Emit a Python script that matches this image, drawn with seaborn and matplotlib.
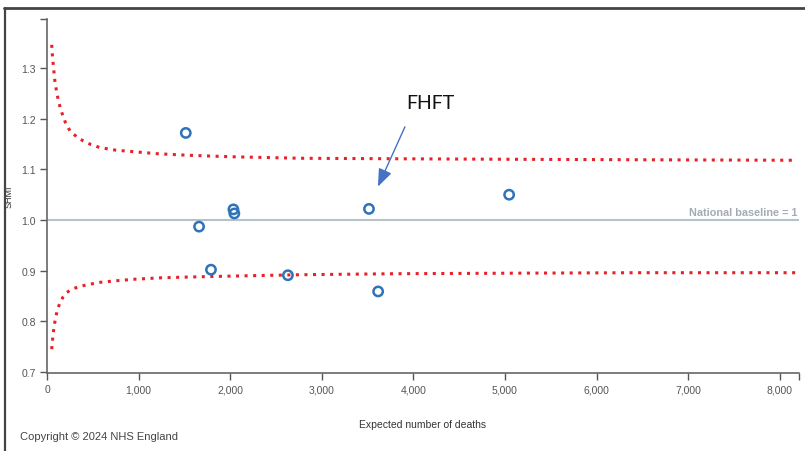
import pandas as pd
import matplotlib.pyplot as plt
import matplotlib.ticker as mticker
from matplotlib.lines import Line2D
import seaborn as sns

# -----------------------
# Data
# -----------------------
expected = [1515, 1660, 1790, 2035, 2045, 2630, 3515, 3615, 5045]
shmi = [1.172, 0.987, 0.902, 1.021, 1.013, 0.891, 1.022, 0.859, 1.050]

# control limits, sampled along the funnel
limit_x = [51, 60, 69, 85, 106, 130, 160, 200, 251, 320, 397, 480, 579, 750, 943, 1200,
           1525, 2000, 2762, 3800, 5000, 6500, 8190]
upper_limit = [1.346, 1.322, 1.305, 1.276, 1.252, 1.231, 1.213, 1.193, 1.176, 1.165,
               1.156, 1.149, 1.143, 1.138, 1.135, 1.131, 1.128, 1.125, 1.122, 1.121,
               1.120, 1.119, 1.118]
lower_x = [51, 60, 69, 83, 98, 120, 142, 175, 215, 280, 360, 460, 579, 750, 942, 1250,
           1670, 2200, 2762, 3800, 5000, 6500, 8190]
lower_limit = [0.745, 0.763, 0.778, 0.796, 0.811, 0.826, 0.837, 0.848, 0.857, 0.864,
               0.869, 0.873, 0.877, 0.880, 0.883, 0.886, 0.888, 0.890, 0.892, 0.894,
               0.895, 0.896, 0.896]

x_ticks = [0, 1000, 2000, 3000, 4000, 5000, 6000, 7000, 8000]
y_ticks = [0.7, 0.8, 0.9, 1.0, 1.1, 1.2, 1.3]

points = pd.DataFrame({"Expected": expected, "SHMI": shmi})
upper = pd.DataFrame({"Expected": limit_x, "SHMI": upper_limit})
lower = pd.DataFrame({"Expected": lower_x, "SHMI": lower_limit})

# -----------------------
# Plot
# -----------------------
sns.set_style("ticks")
plt.rcParams["font.family"] = ["Liberation Sans", "DejaVu Sans"]

fig = plt.figure(figsize=(8.05, 4.52), dpi=100)
ax = fig.add_axes([0.0584, 0.1726, 0.9342, 0.7832])

red = "#e8202a"
sns.lineplot(data=upper, x="Expected", y="SHMI", ax=ax, color=red,
             linestyle=(0, (1, 1.8)), linewidth=2.2, estimator=None, sort=False)
sns.lineplot(data=lower, x="Expected", y="SHMI", ax=ax, color=red,
             linestyle=(0, (1, 1.8)), linewidth=2.2, estimator=None, sort=False)

ax.axhline(1.0, color="#b4c2cc", linewidth=1.5, zorder=1)
ax.text(8190, 1.006, "National baseline = 1", ha="right", va="bottom",
        fontsize=7.8, fontweight="bold", color="#a3acb4")

sns.scatterplot(data=points, x="Expected", y="SHMI", ax=ax, marker="o",
                s=45, facecolor="none", edgecolor="#2f73b8", linewidth=1.8, zorder=5)

# FHFT annotation
ax.annotate("", xy=(3600, 1.061), xytext=(3920, 1.189),
            arrowprops=dict(arrowstyle="-|>,head_length=0.9,head_width=0.35",
                            color="#4472c4", lw=1, mutation_scale=12))
ax.text(4180, 1.233, "FHFT", ha="center", va="center", fontsize=14,
        family=["Lato", "DejaVu Sans"], color="#111111")

# axes
ax.set_xlim(0, 8210)
ax.set_ylim(0.698, 1.397)
ax.set_xticks(x_ticks)
ax.set_yticks(y_ticks)
ax.xaxis.set_major_formatter(mticker.StrMethodFormatter("{x:,.0f}"))
ax.yaxis.set_major_formatter(mticker.StrMethodFormatter("{x:.1f}"))
ax.xaxis.set_minor_locator(mticker.FixedLocator([8210]))
ax.yaxis.set_minor_locator(mticker.FixedLocator([1.397]))
ax.tick_params(which="both", length=5, width=1, color="#555555",
               labelsize=7.5, labelcolor="#555555", pad=3)
for side in ["left", "bottom"]:
    ax.spines[side].set_color("#666666")
    ax.spines[side].set_linewidth(1.2)
sns.despine(ax=ax)

ax.set_xlabel("Expected number of deaths", fontsize=7.5, color="#333333", labelpad=18)
ax.set_ylabel("SHMI", fontsize=6.5, color="#333333")
ax.yaxis.set_label_coords(-0.044, 0.5)

fig.text(20 / 805, 1 - 437 / 452, "Copyright \u00a9 2024 NHS England",
         fontsize=8, color="#444444", va="center", ha="left")

# outer frame (screenshot border)
fig.add_artist(Line2D([0.005, 1.0], [1 - 8.5 / 452, 1 - 8.5 / 452],
                      transform=fig.transFigure, color="#444444", lw=2))
fig.add_artist(Line2D([4.5 / 805, 4.5 / 805], [0, 1 - 8.5 / 452],
                      transform=fig.transFigure, color="#444444", lw=1.6))

fig.savefig("out.png", dpi=100)
